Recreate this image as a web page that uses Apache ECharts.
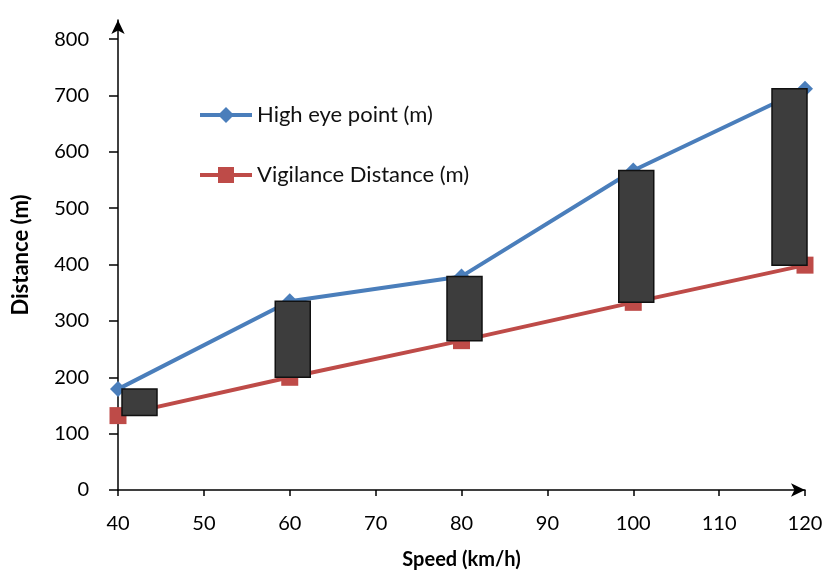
<!DOCTYPE html>
<html>
<head>
<meta charset="utf-8">
<title>Distance vs Speed</title>
<script src="https://cdn.jsdelivr.net/npm/echarts@6/dist/echarts.min.js"></script>
<style>
  html, body { margin: 0; padding: 0; background: #fff; }
  #chart { width: 822px; height: 574px; }
</style>
</head>
<body>
<div id="chart"></div>
<script>
// Speeds (km/h) and the two distance curves (m)
const speeds = [40, 60, 80, 100, 120];
const highEyePoint = [179, 335, 379, 567, 712];
const vigilanceDistance = [132, 200, 265, 333, 399];
const yTickValues = [0, 100, 200, 300, 400, 500, 600, 700, 800];

const FONT = 'Lato, "Open Sans", sans-serif';

// Range boxes between the two curves at each speed
const rangeData = speeds.map((s, i) => [s, vigilanceDistance[i], highEyePoint[i]]);

const chart = echarts.init(document.getElementById('chart'));

function renderRangeBox(params, api) {
  const x = api.value(0);
  const top = api.coord([x, api.value(2)]);
  const bottom = api.coord([x, api.value(1)]);
  const cs = params.coordSys;
  const w = 35;
  let left = top[0] + 3 - w / 2;
  if (left < cs.x + 4) left = cs.x + 4;
  if (left + w > cs.x + cs.width + 2) left = cs.x + cs.width + 2 - w;
  return {
    type: 'rect',
    shape: { x: left, y: top[1], width: w, height: bottom[1] - top[1] },
    style: { fill: '#3d3d3d', stroke: '#111', lineWidth: 1.5 }
  };
}

chart.setOption({
  animation: false,
  backgroundColor: '#fff',
  grid: { left: 118, right: 17, top: 20, bottom: 84, outerBoundsMode: 'none', containLabel: false },
  legend: {
    orient: 'vertical',
    left: 193,
    top: 99,
    itemWidth: 52,
    itemHeight: 20,
    itemGap: 38,
    data: ['High eye point (m)', 'Vigilance Distance (m)'],
    lineStyle: { width: 4 },
    textStyle: { fontFamily: FONT, fontSize: 22, color: '#111' }
  },
  xAxis: {
    type: 'value',
    min: 40,
    max: 120,
    interval: 10,
    name: 'Speed (km/h)',
    nameLocation: 'middle',
    nameGap: 60,
    nameTextStyle: { fontFamily: FONT, fontSize: 20, fontWeight: 'bold', color: '#000' },
    axisLine: {
      show: true,
      symbol: ['none', 'arrow'],
      symbolSize: [10, 14],
      lineStyle: { color: '#000', width: 1.5 }
    },
    axisTick: { show: true, length: 6, lineStyle: { color: '#000', width: 1.5 } },
    axisLabel: { margin: 24, fontFamily: FONT, fontSize: 20, color: '#000' },
    splitLine: { show: false }
  },
  yAxis: {
    type: 'value',
    min: 0,
    max: 834,
    name: 'Distance (m)',
    nameLocation: 'middle',
    nameGap: 86,
    nameRotate: 90,
    nameTextStyle: { fontFamily: FONT, fontSize: 22, fontWeight: 'bold', color: '#000' },
    axisLine: {
      show: true,
      symbol: ['none', 'arrow'],
      symbolSize: [10, 14],
      lineStyle: { color: '#000', width: 1.5 }
    },
    axisTick: { show: true, length: 9, customValues: yTickValues, lineStyle: { color: '#000', width: 1.5 } },
    axisLabel: { margin: 29, customValues: yTickValues, fontFamily: FONT, fontSize: 20, color: '#000' },
    splitLine: { show: false }
  },
  series: [
    {
      name: 'High eye point (m)',
      type: 'line',
      data: speeds.map((s, i) => [s, highEyePoint[i]]),
      symbol: 'diamond',
      symbolSize: 16,
      lineStyle: { color: '#4a7ebb', width: 4 },
      itemStyle: { color: '#4a7ebb' }
    },
    {
      name: 'Vigilance Distance (m)',
      type: 'line',
      data: speeds.map((s, i) => [s, vigilanceDistance[i]]),
      symbol: 'rect',
      symbolSize: 17,
      lineStyle: { color: '#be4b48', width: 4 },
      itemStyle: { color: '#be4b48' }
    },
    {
      name: 'range',
      type: 'custom',
      renderItem: renderRangeBox,
      encode: { x: 0, y: [1, 2] },
      data: rangeData,
      z: 5
    }
  ]
});
</script>
</body>
</html>
